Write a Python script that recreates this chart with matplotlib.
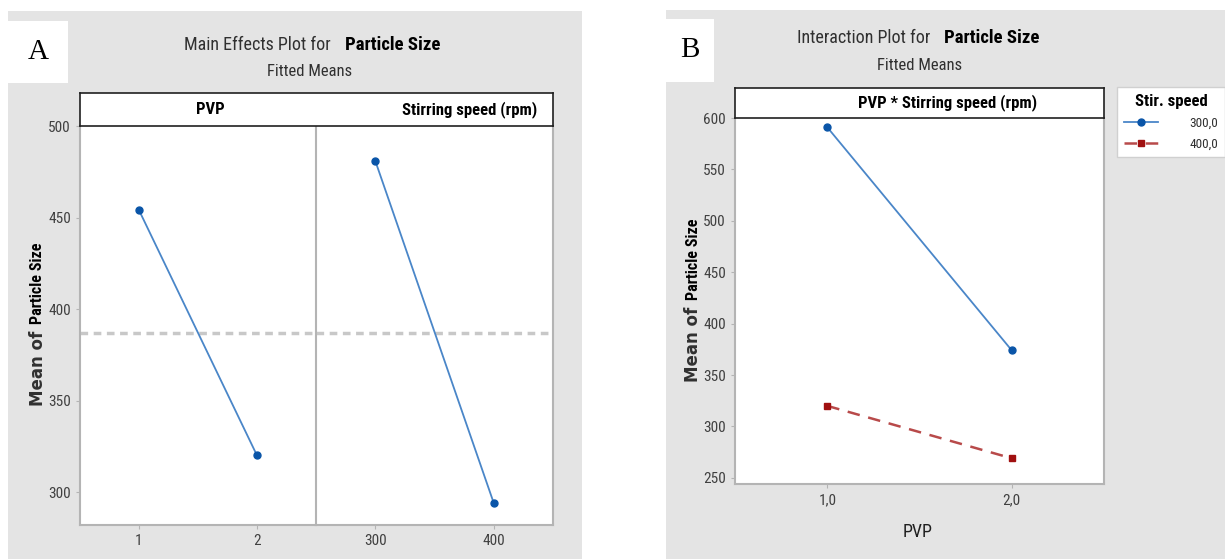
import matplotlib
matplotlib.use("Agg")
import matplotlib.pyplot as plt
from matplotlib import font_manager
from matplotlib.patches import Rectangle

#########################################################
########  Data  #########################################
#########################################################

pvp_levels = [1, 2]
pvp_means = [454, 320]
speed_levels = [300, 400]
speed_means = [481, 294]
grand_mean = 387

inter_pvp = [1.0, 2.0]
inter_pvp_labels = ["1,0", "2,0"]
inter_300 = [591, 374]
inter_400 = [320, 269]
speed_labels = ["300,0", "400,0"]

#########################################################
########  Fonts / helpers  ##############################
#########################################################

names = {f.name for f in font_manager.fontManager.ttflist}
narrow = "Liberation Sans"
for cand in ["Liberation Sans Narrow", "Roboto Condensed", "Open Sans Condensed", "Liberation Sans"]:
    if cand in names:
        narrow = cand
        break
serif = "Liberation Serif" if "Liberation Serif" in names else "DejaVu Serif"

W, H = 1225, 559
bg = "#e4e4e4"
spine_c = "#b4b4b4"
tick_c = "#404040"
blue_line = "#4a86c8"
blue_dot = "#0a55a8"
red_line = "#b84a4a"
red_dot = "#a01010"


def box(x0, y0, x1, y1):
    return [x0 / W, 1 - y1 / H, (x1 - x0) / W, (y1 - y0) / H]


def fx(x):
    return x / W


def fy(y):
    return 1 - y / H


def style(ax):
    for s in ["left", "bottom", "right"]:
        ax.spines[s].set_color(spine_c)
        ax.spines[s].set_linewidth(1.5)
    ax.spines["top"].set_visible(False)
    ax.tick_params(colors=spine_c, labelcolor=tick_c, length=3, width=0.8, labelsize=11)
    for lab in ax.get_xticklabels() + ax.get_yticklabels():
        lab.set_family(narrow)


def strip(rect):
    s = fig.add_axes(rect)
    s.set_xticks([])
    s.set_yticks([])
    s.set_facecolor("white")
    for sp in s.spines.values():
        sp.set_color("#202020")
        sp.set_linewidth(1.2)
    return s


def ylabel(x, y_split):
    fig.text(fx(x), fy(y_split + 5), "Mean of", fontsize=12, weight="semibold", rotation=90,
             ha="center", va="top", color="#303030")
    fig.text(fx(x), fy(y_split - 2), "Particle Size", family=narrow, fontsize=11.5, weight="bold",
             rotation=90, ha="center", va="bottom")


fig = plt.figure(figsize=(12.25, 5.59), dpi=100)
fig.patch.set_facecolor("white")

# gray panels and label boxes
fig.patches.append(Rectangle((fx(8), 0), fx(582) - fx(8), fy(11), transform=fig.transFigure,
                             facecolor=bg, edgecolor="none", zorder=-10))
fig.patches.append(Rectangle((fx(666), 0), fx(1225) - fx(666), fy(10), transform=fig.transFigure,
                             facecolor=bg, edgecolor="none", zorder=-10))
fig.patches.append(Rectangle((fx(8), fy(83)), fx(68) - fx(8), fy(21) - fy(83), transform=fig.transFigure,
                             facecolor="white", edgecolor="none", zorder=-9))
fig.patches.append(Rectangle((fx(666), fy(82)), fx(714) - fx(666), fy(19) - fy(82), transform=fig.transFigure,
                             facecolor="white", edgecolor="none", zorder=-9))
fig.text(fx(38), fy(52), "A", family=serif, fontsize=21, ha="center", va="center")
fig.text(fx(690), fy(50), "B", family=serif, fontsize=21, ha="center", va="center")

#########################################################
########  A: main effects  ##############################
#########################################################

fig.text(fx(331), fy(45), "Main Effects Plot for", family=narrow, fontsize=13, ha="right", va="center", color="#303030")
fig.text(fx(345), fy(45), "Particle Size", family=narrow, fontsize=13.5, weight="bold", ha="left", va="center")
fig.text(fx(310), fy(71), "Fitted Means", family=narrow, fontsize=12, ha="center", va="center", color="#303030")

ax1 = fig.add_axes(box(80, 126, 316, 525))
ax2 = fig.add_axes(box(316, 126, 553, 525), sharey=ax1)

ax1.plot(pvp_levels, pvp_means, color=blue_line, lw=1.3, zorder=3)
ax1.plot(pvp_levels, pvp_means, "o", color=blue_dot, ms=5, zorder=4)
ax2.plot(speed_levels, speed_means, color=blue_line, lw=1.3, zorder=3)
ax2.plot(speed_levels, speed_means, "o", color=blue_dot, ms=5, zorder=4)
for ax in (ax1, ax2):
    ax.axhline(grand_mean, color="#c8c8c8", lw=2.5, ls=(0, (2.2, 1.6)), zorder=2)

ax1.set_xlim(0.5, 2.5)
ax1.set_xticks(pvp_levels)
ax2.set_xlim(250, 450)
ax2.set_xticks(speed_levels)
ax1.set_ylim(282, 500)
ax1.set_yticks([300, 350, 400, 450, 500])
style(ax1)
style(ax2)
ax1.spines["right"].set_visible(False)
ax2.tick_params(axis="y", left=False, labelleft=False)

strip(box(80, 93, 553, 126))
fig.text(fx(210), fy(110), "PVP", family=narrow, fontsize=12, weight="bold", ha="center", va="center")
fig.text(fx(470), fy(110), "Stirring speed (rpm)", family=narrow, fontsize=12, weight="bold",
         ha="center", va="center")
ylabel(38, 326)

#########################################################
########  B: interaction  ###############################
#########################################################

fig.text(fx(930), fy(38), "Interaction Plot for", family=narrow, fontsize=13, ha="right", va="center", color="#303030")
fig.text(fx(944), fy(38), "Particle Size", family=narrow, fontsize=13.5, weight="bold", ha="left", va="center")
fig.text(fx(920), fy(65), "Fitted Means", family=narrow, fontsize=12, ha="center", va="center", color="#303030")

ax3 = fig.add_axes(box(735, 118, 1104, 484))
l300, = ax3.plot(inter_pvp, inter_300, "-o", color=blue_line, mfc=blue_dot, mec=blue_dot, ms=5, lw=1.3,
                 label=speed_labels[0])
l400, = ax3.plot(inter_pvp, inter_400, "--s", color=red_line, mfc=red_dot, mec=red_dot, ms=5, lw=1.8,
                 dashes=(5, 3.5), label=speed_labels[1])
ax3.set_xlim(0.5, 2.5)
ax3.set_xticks(inter_pvp)
ax3.set_xticklabels(inter_pvp_labels)
ax3.set_ylim(244, 600)
ax3.set_yticks([250, 300, 350, 400, 450, 500, 550, 600])
style(ax3)

strip(box(735, 88, 1104, 118))
fig.text(fx(948), fy(103), "PVP * Stirring speed (rpm)", family=narrow, fontsize=12, weight="bold",
         ha="center", va="center")

fig.text(fx(918), fy(532), "PVP", family=narrow, fontsize=13, ha="center", va="center", color="#202020")
ylabel(693, 302)

leg = fig.legend(handles=[l300, l400], loc="upper left", bbox_to_anchor=(fx(1117), fy(87)),
                 title="Stir. speed", fontsize=9.5, frameon=True, fancybox=False,
                 edgecolor="#d0d0d0", facecolor="white", framealpha=1, handlelength=2.6,
                 borderpad=0.5, labelspacing=0.6, handletextpad=2.4, borderaxespad=0)
leg.get_title().set_fontweight("bold")
leg.get_title().set_fontsize(12)
leg.get_title().set_family(narrow)
for t in leg.get_texts():
    t.set_family(narrow)
    t.set_color("#303030")

fig.savefig("out.png", dpi=100)
